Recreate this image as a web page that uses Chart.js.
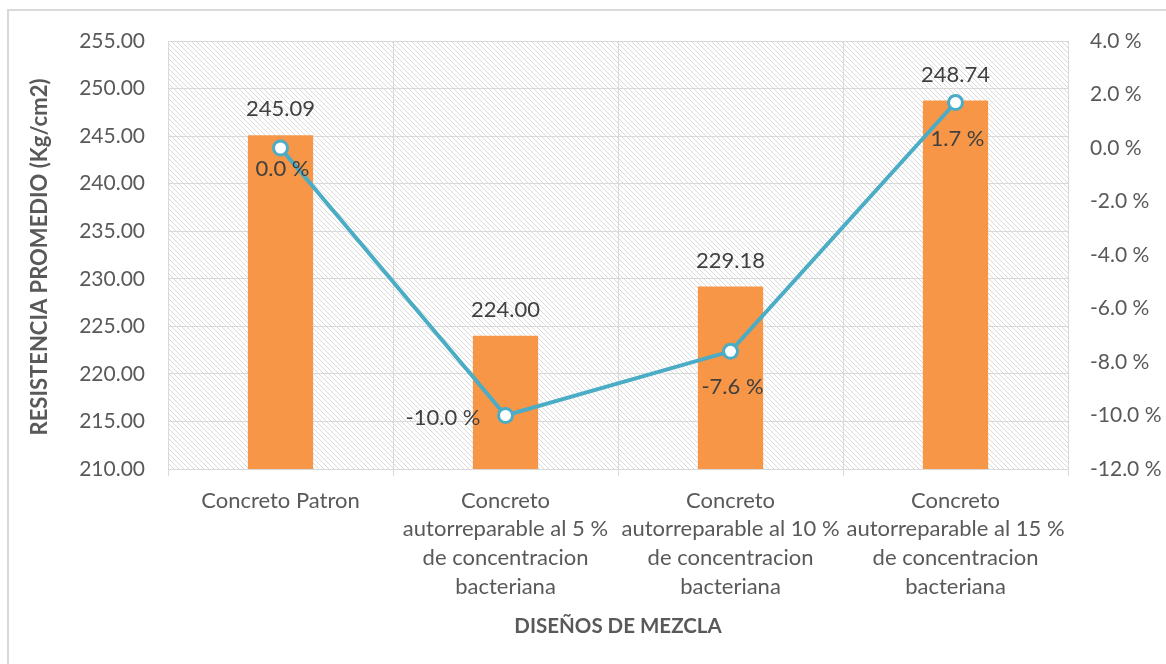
<!DOCTYPE html>
<html>
<head>
<meta charset="utf-8">
<script src="https://cdn.jsdelivr.net/npm/chart.js@4.4.1/dist/chart.umd.min.js"></script>
<style>
  html, body { margin: 0; padding: 0; background: #fff; }
  #wrap { width: 1166px; height: 664px; position: relative; }
</style>
</head>
<body>
<div id="wrap"><canvas id="chart"></canvas></div>
<script>
const categories = [
  ["Concreto Patron"],
  ["Concreto", "autorreparable al 5 %", "de concentracion", "bacteriana"],
  ["Concreto", "autorreparable al 10 %", "de concentracion", "bacteriana"],
  ["Concreto", "autorreparable al 15 %", "de concentracion", "bacteriana"]
];
const resistencia = [245.09, 224.00, 229.18, 248.74];
const variacion = [0.0, -10.0, -7.6, 1.7];
const leftRange = [210, 255, 5];
const rightRange = [-12, 4, 2];

const FONT = "Lato, 'Open Sans', sans-serif";
const GRID = "#D9D9D9";
const TICK_COLOR = "#595959";

// diagonal hatch for the plot background
function hatch() {
  const c = document.createElement("canvas");
  c.width = 5; c.height = 5;
  const g = c.getContext("2d");
  g.strokeStyle = "#DADADA";
  g.lineWidth = 1;
  g.beginPath();
  g.moveTo(-1, -1); g.lineTo(6, 6);
  g.moveTo(-1, 4); g.lineTo(1, 6);
  g.moveTo(4, -1); g.lineTo(6, 1);
  g.stroke();
  return g.createPattern(c, "repeat");
}

const decor = {
  id: "decor",
  beforeDraw(chart) {
    const { ctx, chartArea: a } = chart;
    ctx.save();
    ctx.strokeStyle = GRID;
    ctx.lineWidth = 2;
    ctx.strokeRect(8, 10, 1300, 800);
    ctx.fillStyle = hatch();
    ctx.fillRect(a.left, a.top, a.right - a.left, a.bottom - a.top);
    ctx.restore();
  },
  afterDatasetsDraw(chart) {
    const { ctx } = chart;
    ctx.save();
    ctx.font = "22px " + FONT;
    ctx.fillStyle = "#404040";
    ctx.textAlign = "center";
    ctx.textBaseline = "middle";
    // values above the bars
    chart.getDatasetMeta(1).data.forEach((bar, i) => {
      ctx.fillText(resistencia[i].toFixed(2), bar.x, bar.y - 26);
    });
    // percentages next to the line points
    const pos = ["below", "left", "below", "below"];
    const drop = [21, 0, 36, 36];
    chart.getDatasetMeta(0).data.forEach((pt, i) => {
      const txt = variacion[i].toFixed(1) + " %";
      if (pos[i] === "left") {
        ctx.textAlign = "right";
        ctx.fillText(txt, pt.x - 25, pt.y + 2);
      } else {
        ctx.textAlign = "center";
        ctx.fillText(txt, pt.x + 2, pt.y + drop[i]);
      }
    });
    ctx.restore();
  },
  afterDraw(chart) {
    const { ctx, chartArea: a } = chart;
    ctx.save();
    ctx.fillStyle = TICK_COLOR;
    ctx.textAlign = "center";
    ctx.textBaseline = "middle";
    ctx.font = "bold 20.5px " + FONT;
    ctx.fillText("DISEÑOS DE MEZCLA", (a.left + a.right) / 2, 626);
    ctx.font = "bold 22px " + FONT;
    ctx.translate(40, (a.top + a.bottom) / 2 + 2);
    ctx.rotate(-Math.PI / 2);
    ctx.fillText("RESISTENCIA PROMEDIO (Kg/cm2)", 0, 0);
    ctx.restore();
  }
};

new Chart(document.getElementById("chart"), {
  data: {
    labels: categories,
    datasets: [
      {
        type: "line",
        label: "Variación",
        data: variacion,
        yAxisID: "y1",
        borderColor: "#4BACC6",
        borderWidth: 4,
        pointRadius: 7,
        pointBorderWidth: 3,
        pointBackgroundColor: "#FFFFFF",
        pointBorderColor: "#4BACC6",
        tension: 0,
        order: 0
      },
      {
        type: "bar",
        label: "Resistencia promedio",
        data: resistencia,
        yAxisID: "y",
        backgroundColor: "#F79646",
        categoryPercentage: 1,
        barPercentage: 0.29,
        order: 1
      }
    ]
  },
  options: {
    responsive: true,
    maintainAspectRatio: false,
    animation: false,
    layout: { padding: { top: 41, left: 0, right: 0, bottom: 0 } },
    plugins: {
      legend: { display: false },
      tooltip: { enabled: false }
    },
    scales: {
      x: {
        offset: true,
        grid: { offset: true, color: GRID, tickLength: 7, drawTicks: true },
        border: { color: GRID },
        ticks: {
          color: TICK_COLOR,
          font: { family: FONT, size: 22, lineHeight: 1.31 },
          padding: 10,
          maxRotation: 0,
          autoSkip: false
        },
        afterFit(s) { s.height = 195; }
      },
      y: {
        position: "left",
        min: leftRange[0],
        max: leftRange[1],
        grid: { color: GRID, drawTicks: false },
        border: { display: false },
        ticks: {
          stepSize: leftRange[2],
          color: TICK_COLOR,
          font: { family: FONT, size: 21 },
          padding: 23,
          callback: v => v.toFixed(2)
        },
        afterFit(s) { s.width = 168; }
      },
      y1: {
        position: "right",
        min: rightRange[0],
        max: rightRange[1],
        grid: { drawOnChartArea: false, drawTicks: false },
        border: { display: false },
        ticks: {
          stepSize: rightRange[2],
          color: TICK_COLOR,
          font: { family: FONT, size: 21 },
          padding: 22,
          callback: v => v.toFixed(1) + " %"
        },
        afterFit(s) { s.width = 98; }
      }
    }
  },
  plugins: [decor]
});
</script>
</body>
</html>
